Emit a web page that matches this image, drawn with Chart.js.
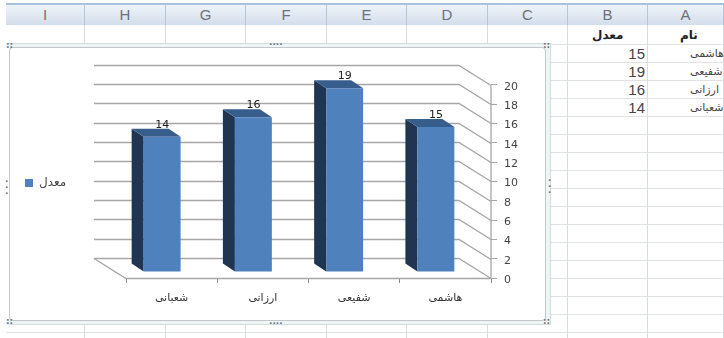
<!DOCTYPE html>
<html>
<head>
<meta charset="utf-8">
<title>chart</title>
<script src="https://cdn.jsdelivr.net/npm/chart.js@4"></script>
<style>
html, body { margin: 0; padding: 0; background: #fff; overflow: hidden; }
#sheet { position: absolute; left: 0; top: 0; width: 724px; height: 338px; overflow: hidden; font-family: "DejaVu Sans", sans-serif; }
#sheet div { position: absolute; }
.head { top: 5px; height: 20px; background: linear-gradient(#eef3f9, #d3deeb); border-right: 1px solid #b5c5da; color: #6d7278; font: 15px/20px "Liberation Sans", sans-serif; text-align: center; }
.vline { top: 25px; height: 313px; width: 1px; background: #d9dcdf; }
.hline { height: 1px; background: #dfe2e4; }
.num { font: 15px/18px "Liberation Sans", sans-serif; color: #444; width: 40px; text-align: right; }
.name { font: 11px/18px "DejaVu Sans", sans-serif; color: #444; white-space: nowrap; direction: rtl; }
.title { font: bold 12px/18px "DejaVu Sans", sans-serif; color: #222; white-space: nowrap; direction: rtl; }
.dots { color: #70777d; font: bold 9px/6px "DejaVu Sans", sans-serif; letter-spacing: 0; }
canvas { position: absolute; left: 0; top: 0; }
</style>
</head>
<body>
<div id="sheet"></div>
<canvas id="barChart" width="724" height="338"></canvas>
<script>
// Data read from the sheet, column A and B
var names = ['هاشمی', 'شفیعی', 'ارزانی', 'شعبانی'];
var values = [15, 19, 16, 14];
var seriesName = 'معدل';
var nameHeader = 'نام';
var columnLetters = ['I', 'H', 'G', 'F', 'E', 'D', 'C', 'B', 'A'];

// Fake 3D offsets
var wallX = 32, wallY = 20;     // back wall behind the front plane
var barX = 9.5, barY = 6;       // bar front face behind the front plane
var sideX = 12, sideY = 8;      // bar depth
var gridColor = '#a6a6a6';

// Spreadsheet behind the chart
var sheet = document.getElementById('sheet');
var colEdges = [6, 85, 166, 246, 327, 407, 488, 568, 648, 724];

function addDiv(cls, css, text) {
    var d = document.createElement('div');
    d.className = cls;
    d.style.cssText = css;
    if (text) d.textContent = text;
    sheet.appendChild(d);
    return d;
}

addDiv('', 'left:6px;top:3px;width:718px;height:2px;background:#a9c3de');
columnLetters.forEach(function (letter, i) {
    addDiv('head', 'left:' + colEdges[i] + 'px;width:' + (colEdges[i + 1] - colEdges[i] - 1) + 'px', letter);
    addDiv('vline', 'left:' + (colEdges[i + 1] - 1) + 'px');
});
for (var r = 0; r < 17; r++) {
    addDiv('hline', 'left:6px;width:718px;top:' + (44 + r * 18) + 'px');
}
addDiv('title', 'left:592px;top:26px', seriesName);
addDiv('title', 'left:680px;top:26px', nameHeader);
names.forEach(function (n, i) {
    addDiv('num', 'left:605px;top:' + (45 + i * 18) + 'px', String(values[i]));
    addDiv('name', 'left:690px;top:' + (45 + i * 18) + 'px', n);
});
// chart frame: light band on top, right and bottom, none on the left
addDiv('', 'left:6px;top:43px;width:545px;height:282px;background:#eef5f5;border:1px solid #d5dadd;border-left:0;box-sizing:border-box');
addDiv('', 'left:0;top:40px;width:9px;height:290px;background:#fff');
addDiv('', 'left:6px;top:43px;width:3px;height:4px;background:#eef5f5');
addDiv('', 'left:6px;top:320px;width:3px;height:5px;background:#eef5f5');
addDiv('', 'left:9px;top:47px;width:537px;height:274px;background:#fff;border:1px solid #c4c8cb;border-radius:4px;box-sizing:border-box');
addDiv('dots', 'left:269px;top:41px', '····');
addDiv('dots', 'left:269px;top:320px', '····');
addDiv('dots', 'left:5px;top:178px;width:3px', '· · ·');
addDiv('dots', 'left:548px;top:177px;width:3px', '· · ·');
addDiv('dots', 'left:6px;top:42px', '::');
addDiv('dots', 'left:6px;top:318px', '::');
addDiv('dots', 'left:543px;top:42px', '::');
addDiv('dots', 'left:543px;top:318px', '::');

// Draws the walls, floor, bar sides and value labels around the normal bars
var fake3d = {
    id: 'fake3d',
    beforeDatasetsDraw: function (chart) {
        var ctx = chart.ctx, y = chart.scales.y;
        var left = chart.chartArea.left, right = chart.chartArea.right;
        ctx.save();
        ctx.strokeStyle = gridColor;
        ctx.lineWidth = 1.3;
        y.ticks.forEach(function (t) {
            var py = Math.round(y.getPixelForValue(t.value)) + 0.5;
            ctx.beginPath();
            ctx.moveTo(left - wallX, py - wallY);
            ctx.lineTo(right - wallX, py - wallY);
            ctx.lineTo(right, py);
            ctx.stroke();
        });
        // floor edge and the front axis, the axis only runs up to the last tick
        var floor = Math.round(y.getPixelForValue(0)) + 0.5;
        var top = Math.round(y.getPixelForValue(y.ticks[y.ticks.length - 1].value)) + 0.5;
        ctx.beginPath();
        ctx.moveTo(left - wallX, floor - wallY);
        ctx.lineTo(left, floor);
        ctx.lineTo(right, floor);
        ctx.lineTo(right, top);
        ctx.stroke();

        // shift the bars back into the depth
        chart.getDatasetMeta(0).data.forEach(function (bar) {
            var l = bar.x - bar.width / 2 - barX, r = bar.x + bar.width / 2 - barX;
            var t = bar.y - barY, b = bar.base - barY;
            ctx.fillStyle = '#1f3552';
            ctx.beginPath();
            ctx.moveTo(l, t);
            ctx.lineTo(l - sideX, t - sideY);
            ctx.lineTo(l - sideX, b - sideY);
            ctx.lineTo(l, b);
            ctx.closePath();
            ctx.fill();
            ctx.fillStyle = '#375d8c';
            ctx.beginPath();
            ctx.moveTo(l, t);
            ctx.lineTo(l - sideX, t - sideY);
            ctx.lineTo(r - sideX, t - sideY);
            ctx.lineTo(r, t);
            ctx.closePath();
            ctx.fill();
        });
        ctx.restore();
        ctx.save();
        ctx.translate(-barX, -barY);
    },
    afterDatasetsDraw: function (chart) {
        var ctx = chart.ctx;
        ctx.restore();
        ctx.save();
        ctx.fillStyle = '#222';
        ctx.font = '11px "DejaVu Sans"';
        ctx.textAlign = 'center';
        ctx.textBaseline = 'middle';
        chart.getDatasetMeta(0).data.forEach(function (bar, i) {
            ctx.fillText(values[i], bar.x - barX, bar.y - barY - sideY - 4);
        });
        ctx.restore();
    }
};

var barChart = new Chart(document.getElementById('barChart'), {
    type: 'bar',
    data: {
        labels: names,
        datasets: [{
            label: seriesName,
            data: values,
            backgroundColor: '#4f81bd',
            categoryPercentage: 1,
            barPercentage: 0.405
        }]
    },
    plugins: [fake3d],
    options: {
        responsive: false,
        animation: false,
        layout: { padding: { left: 15, top: 46, right: 179, bottom: 18 } },
        plugins: {
            tooltip: { enabled: false },
            legend: {
                position: 'left',
                labels: {
                    boxWidth: 8,
                    boxHeight: 8,
                    padding: 10,
                    color: '#444',
                    font: { family: 'DejaVu Sans', size: 12 }
                }
            }
        },
        scales: {
            x: {
                reverse: true,
                border: { display: false },
                grid: { offset: true, drawOnChartArea: false, tickLength: 5, color: '#888' },
                ticks: { color: '#333', padding: 9, font: { family: 'DejaVu Sans', size: 11 }, maxRotation: 0 },
                afterFit: function (scale) { scale.height = 42; }
            },
            y: {
                position: 'right',
                min: 0,
                max: 24,
                border: { display: false },
                grid: { drawOnChartArea: false, tickLength: 6, color: gridColor },
                ticks: { stepSize: 2, color: '#444', padding: 7, labelOffset: 2, font: { family: 'DejaVu Sans', size: 11 } },
                // room above 20 is only there to place the wall, no ticks
                afterBuildTicks: function (scale) {
                    scale.ticks = scale.ticks.filter(function (t) { return t.value <= 20; });
                },
                afterFit: function (scale) { scale.width = 54; }
            },
            // empty scale that pushes the plot away from the legend
            spacer: {
                position: 'left',
                axis: 'y',
                display: true,
                grid: { display: false },
                border: { display: false },
                ticks: { display: false },
                afterFit: function (scale) {
                    scale.width = 126 - 15 - (scale.chart.legend ? scale.chart.legend.width : 50);
                }
            }
        }
    }
});
</script>
</body>
</html>
